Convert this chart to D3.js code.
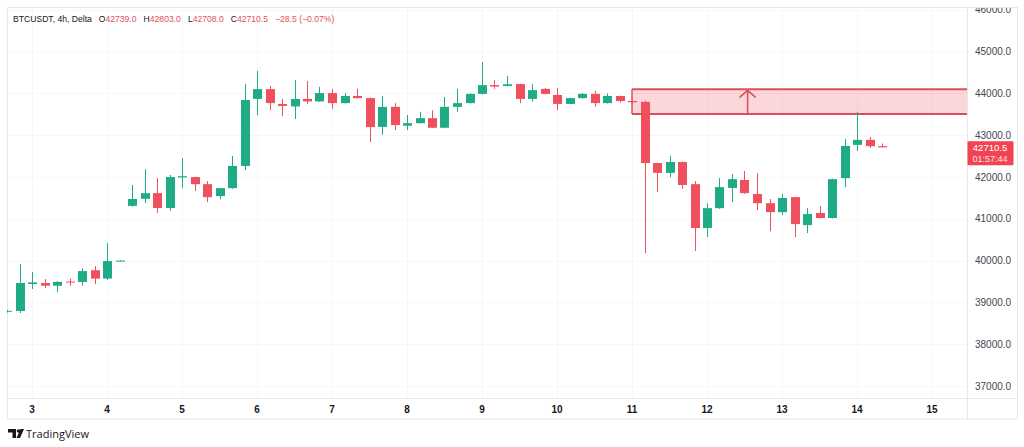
<!DOCTYPE html>
<html>
<head>
<meta charset="utf-8">
<script src="https://cdn.jsdelivr.net/npm/d3@7"></script>
<style>
  body { margin: 0; background: #fff; }
  svg { display: block; font-family: "Liberation Sans", Arial, sans-serif; }
</style>
</head>
<body>
<svg id="chart" width="1024" height="447"></svg>
<script>
// BTCUSDT 4h candles, Dec 2 16:00 -> Dec 14 08:00 (UTC)
const firstCandle = new Date(Date.UTC(2023, 11, 2, 16))
const stepHours = 4

const opens = [38780, 38795, 39440, 39465, 39400, 39500, 39490, 39770, 39570, 39990,
  41310, 41480, 41615, 41260, 41990, 42000, 41830, 41545, 41735, 42265,
  43870, 44105, 43750, 43690, 43870, 43810, 44010, 43770, 43940, 43890,
  43200, 43680, 43230, 43290, 43410, 43180, 43680, 43770, 43990, 44200,
  44180, 44225, 43870, 44110, 43965, 43750, 43890, 43990, 43770, 43940,
  43820, 43800, 42335, 42100, 42360, 41830, 40780, 41256, 41740, 41930,
  41595, 41375, 41160, 41520, 40850, 41140, 41020, 41975, 42770, 42890,
  42739]
const highs = [38820, 39920, 39730, 39560, 39510, 39570, 39820, 39870, 40420, 40010,
  41810, 42190, 41970, 42050, 42455, 42010, 41905, 41740, 42505, 44225,
  44540, 44180, 43870, 44320, 44300, 44160, 44110, 44010, 44110, 43900,
  43940, 43770, 43485, 43560, 43600, 43915, 44110, 44000, 44750, 44320,
  44420, 44235, 44225, 44130, 44130, 43900, 44010, 44060, 44000, 43950,
  43840, 43830, 42340, 42505, 42370, 41905, 41375, 41975, 42070, 42145,
  42095, 41475, 41595, 41530, 41255, 41305, 41960, 42910, 43560, 42960,
  42803]
const lows = [38760, 38747, 39320, 39340, 39250, 39400, 39395, 39440, 39540, 39985,
  41290, 41380, 41140, 41190, 41735, 41665, 41400, 41470, 41720, 42165,
  43480, 43600, 43460, 43390, 43750, 43800, 43630, 43760, 43880, 42840,
  43010, 43125, 43125, 43280, 43170, 43170, 43560, 43760, 43980, 44110,
  44170, 43770, 43800, 43980, 43600, 43740, 43880, 43680, 43760, 43780,
  43760, 40180, 41640, 42000, 41715, 40230, 40565, 41240, 41400, 41600,
  41210, 40705, 41090, 40565, 40660, 41010, 41010, 41760, 42625, 42695,
  42708]
const closes = [38800, 39465, 39480, 39400, 39490, 39480, 39750, 39570, 39990, 40000,
  41475, 41615, 41260, 42000, 42020, 41830, 41520, 41735, 42265, 43845,
  44105, 43770, 43700, 43870, 43810, 44010, 43770, 43940, 43890, 43195,
  43680, 43245, 43290, 43410, 43180, 43680, 43770, 43990, 44200, 44165,
  44220, 43870, 44080, 43990, 43750, 43890, 43990, 43770, 43940, 43820,
  43790, 42335, 42100, 42360, 41810, 40780, 41256, 41760, 41950, 41615,
  41375, 41160, 41500, 40875, 41115, 41020, 41950, 42745, 42890, 42739,
  42710.5]

const priceTicks = [37000, 38000, 39000, 40000, 41000, 42000, 43000, 44000, 45000, 46000]
const zone = { top: 44100, bottom: 43510, start: new Date(Date.UTC(2023, 11, 11, 0)),
  arrowAt: new Date(Date.UTC(2023, 11, 12, 13)) }
const countdown = '01:57:44'

const upColor = '#1fab85'
const downColor = '#f0505d'

const svg = d3.select('#chart')

// frame
const plotLeft = 7, plotRight = 967, plotTop = 8, plotBottom = 398, axisRight = 1017, axisBottom = 419

const x = d3.scaleUtc()
  .domain([new Date(Date.UTC(2023, 11, 3)), new Date(Date.UTC(2023, 11, 15))])
  .range([32, 932])
const y = d3.scaleLinear().domain([37000, 45000]).range([386, 51.7])

const candles = opens.map(function (o, i) {
  return {
    t: d3.utcHour.offset(firstCandle, i * stepHours),
    o: o, h: highs[i], l: lows[i], c: closes[i]
  }
})

const defs = svg.append('defs')
defs.append('clipPath').attr('id', 'plot')
  .append('rect').attr('x', plotLeft).attr('y', plotTop).attr('width', plotRight - plotLeft).attr('height', plotBottom - plotTop)
defs.append('clipPath').attr('id', 'paxis')
  .append('rect').attr('x', plotRight).attr('y', plotTop).attr('width', axisRight - plotRight).attr('height', plotBottom - plotTop)

// grid
const grid = svg.append('g').attr('clip-path', 'url(#plot)')
grid.selectAll('.hg').data(priceTicks).enter().append('line')
  .attr('x1', plotLeft).attr('x2', plotRight)
  .attr('y1', d => Math.round(y(d)) + 0.5).attr('y2', d => Math.round(y(d)) + 0.5)
  .attr('stroke', '#f6f7f9')
const dayTicks = x.ticks(d3.utcDay.every(1))
grid.selectAll('.vg').data(dayTicks).enter().append('line')
  .attr('x1', d => Math.round(x(d)) + 0.5).attr('x2', d => Math.round(x(d)) + 0.5)
  .attr('y1', plotTop).attr('y2', plotBottom)
  .attr('stroke', '#f6f7f9')

// borders
const frame = svg.append('g').attr('stroke', '#e6e8ec').attr('fill', 'none')
frame.append('rect').attr('x', plotLeft + 0.5).attr('y', plotTop - 0.5).attr('width', axisRight - plotLeft).attr('height', axisBottom - plotTop + 0.5)
frame.append('line').attr('x1', plotRight + 0.5).attr('x2', plotRight + 0.5).attr('y1', plotTop).attr('y2', axisBottom)
frame.append('line').attr('x1', plotLeft).attr('x2', axisRight).attr('y1', plotBottom + 0.5).attr('y2', plotBottom + 0.5)

const plot = svg.append('g').attr('clip-path', 'url(#plot)')

// supply zone
const zx = x(zone.start)
plot.append('rect')
  .attr('x', zx).attr('y', y(zone.top))
  .attr('width', plotRight - zx).attr('height', y(zone.bottom) - y(zone.top))
  .attr('fill', 'rgba(242,54,69,0.2)')
plot.append('line').attr('x1', zx).attr('x2', plotRight).attr('y1', y(zone.top)).attr('y2', y(zone.top))
  .attr('stroke', '#d9505c').attr('stroke-width', 2)
plot.append('line').attr('x1', zx).attr('x2', plotRight).attr('y1', y(zone.bottom)).attr('y2', y(zone.bottom))
  .attr('stroke', '#d9505c').attr('stroke-width', 2)
plot.append('line').attr('x1', zx).attr('x2', zx).attr('y1', y(zone.top)).attr('y2', y(zone.bottom))
  .attr('stroke', '#d9505c').attr('stroke-width', 1.5)
const ax = x(zone.arrowAt)
plot.append('path')
  .attr('d', 'M' + ax + ',' + y(zone.bottom) + 'V' + (y(zone.top) + 1) +
    'M' + (ax - 8) + ',' + (y(zone.top) + 8) + 'L' + ax + ',' + (y(zone.top) + 1) + 'L' + (ax + 8) + ',' + (y(zone.top) + 8))
  .attr('fill', 'none').attr('stroke', '#d9505c').attr('stroke-width', 1.6)

// candles
const bodyW = 9
const g = plot.selectAll('.candle').data(candles).enter().append('g').attr('class', 'candle')
g.append('line')
  .attr('x1', d => Math.round(x(d.t)) + 0.5).attr('x2', d => Math.round(x(d.t)) + 0.5)
  .attr('y1', d => y(d.h)).attr('y2', d => y(d.l))
  .attr('stroke', d => d.c >= d.o ? upColor : downColor)
g.append('rect')
  .attr('x', d => Math.round(x(d.t)) + 0.5 - bodyW / 2)
  .attr('y', d => y(Math.max(d.o, d.c)))
  .attr('width', bodyW)
  .attr('height', d => Math.max(1, y(Math.min(d.o, d.c)) - y(Math.max(d.o, d.c))))
  .attr('fill', d => d.c >= d.o ? upColor : downColor)

// price axis
const pa = svg.append('g').attr('clip-path', 'url(#paxis)')
pa.selectAll('text').data(priceTicks).enter().append('text')
  .attr('x', 975).attr('y', d => y(d) + 3.5)
  .attr('font-size', 10).attr('fill', '#434651')
  .text(d => d3.format('.1f')(d))

const last = candles[candles.length - 1]
const prev = candles[candles.length - 2]
const ly = y(last.c)
svg.append('rect').attr('x', plotRight + 0.5).attr('y', ly - 6).attr('width', 46).attr('height', 24)
  .attr('fill', '#f04452').attr('rx', 1)
svg.append('text').attr('x', 990).attr('y', ly + 4).attr('text-anchor', 'middle')
  .attr('font-size', 9.5).attr('fill', '#fff').text(d3.format('.1f')(last.c))
svg.append('text').attr('x', 990).attr('y', ly + 15).attr('text-anchor', 'middle')
  .attr('font-size', 9).attr('fill', '#fde3e5').text(countdown)

// time axis
svg.append('g').selectAll('text').data(dayTicks).enter().append('text')
  .attr('x', d => x(d)).attr('y', 412.5).attr('text-anchor', 'middle')
  .attr('font-size', 10).attr('font-weight', 'bold').attr('fill', '#131722')
  .text(d3.utcFormat('%-d'))

// legend line, laid out left to right
const chg = last.c - prev.c
const legendRed = '#e0505c'
const legend = svg.append('text').attr('x', 13).attr('y', 22).attr('font-size', 8.6).attr('fill', '#131722')
legend.append('tspan').text('BTCUSDT, 4h, Delta')
const parts = [['O', last.o], ['H', last.h], ['L', last.l], ['C', last.c]]
parts.forEach(function (p) {
  legend.append('tspan').attr('dx', 7).attr('fill', '#131722').text(p[0])
  legend.append('tspan').attr('fill', legendRed).text(d3.format('.1f')(p[1]))
})
legend.append('tspan').attr('dx', 7).attr('fill', legendRed)
  .text(d3.format('.1f')(chg).replace('-', '\u2212') + ' (' + d3.format('.2%')(chg / prev.c).replace('-', '\u2212') + ')')

// logo
const logo = svg.append('g').attr('fill', '#131722')
logo.append('path').attr('d', 'M8,429 h8 v9 h-3.5 v-5.5 h-4.5 z')
logo.append('circle').attr('cx', 18.5).attr('cy', 431).attr('r', 1.8)
logo.append('path').attr('d', 'M20.5,429 h3.5 l-4,9 h-3.5 z')
svg.append('text').attr('x', 26).attr('y', 438).attr('font-size', 11).attr('fill', '#131722')
  .attr('font-family', 'Open Sans, sans-serif').text('TradingView')
</script>
</body>
</html>
